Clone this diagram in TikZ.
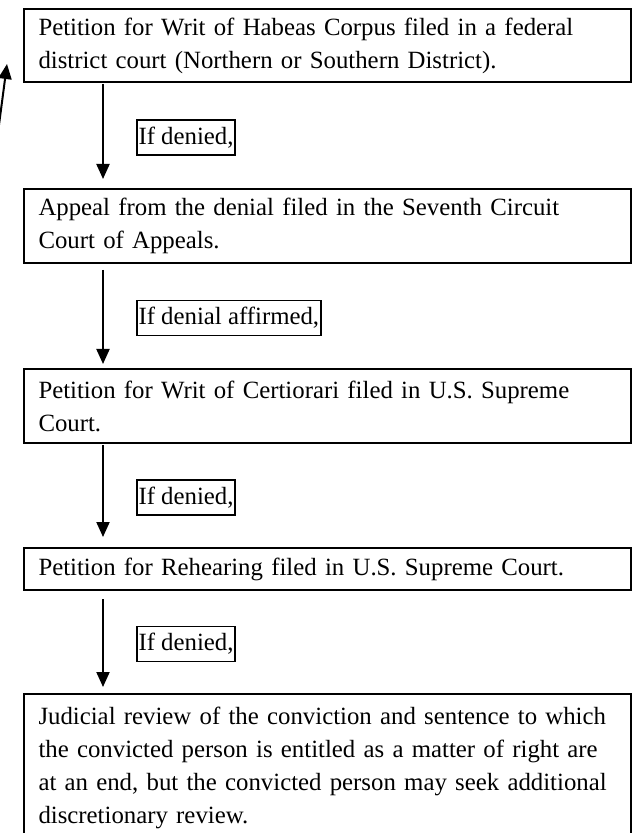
\documentclass[tikz,border=0pt]{standalone}
\usepackage{fontspec}
\setmainfont{Liberation Serif}
\usetikzlibrary{arrows.meta}

\begin{document}
\begin{tikzpicture}[x=0.5pt,y=-0.5pt,
	stagebox/.style={draw, line width=1pt, anchor=north west, minimum width=303.5pt, text width=289pt, inner xsep=7.25pt, inner ysep=0pt, align=left, font=\fontsize{12.4}{16.5}\selectfont},
	ifbox/.style={draw, line width=0.9pt, inner xsep=0.8pt, inner ysep=0pt, minimum height=17.5pt, font=\fontsize{12.4}{16.5}\selectfont},
	flowarrow/.style={line width=1pt, -{Triangle[width=6.5pt,length=7.5pt]}}]
				\useasboundingbox (0,0) rectangle (639,833);
				\node[stagebox, minimum height=36.5pt] (habeas) at (23,8) {Petition for Writ of Habeas Corpus filed in a federal\\district court (Northern or Southern District).};
				\node[stagebox, minimum height=37pt] (appeal) at (23,188) {Appeal from the denial filed in the Seventh Circuit\\Court of Appeals.};
				\node[stagebox, minimum height=37pt] (certiorari) at (23,368) {Petition for Writ of Certiorari filed in U.S. Supreme\\Court.};
				\node[stagebox, minimum height=21pt] (rehearing) at (23,547) {Petition for Rehearing filed in U.S. Supreme Court.};
				\node[stagebox, minimum height=74pt] (review) at (23,693) {Judicial review of the conviction and sentence to which\\the convicted person is entitled as a matter of right are\\at an end, but the convicted person may seek additional\\discretionary review.};
				\foreach \from/\to/\s/\e/\txt [count=\i] in {habeas/appeal/0.5/4.5/{If denied,}, appeal/certiorari/3/2/{If denial affirmed,}, certiorari/rehearing/0.5/5/{If denied,}, rehearing/review/4/3/{If denied,}} {
					\draw[flowarrow, shorten <=\s pt, shorten >=\e pt] ([xshift=40pt]\from.south west) -- ([xshift=40pt]\to.north west) node[ifbox, midway, anchor=west, xshift=16.5pt, yshift=-1pt] (if\i) {\txt};
				}
				\coordinate (backtail) at (-3,140);
				\coordinate (backtip) at (7,64);
				\draw[flowarrow] (backtail) -- (backtip);
			\end{tikzpicture}
\end{document}
